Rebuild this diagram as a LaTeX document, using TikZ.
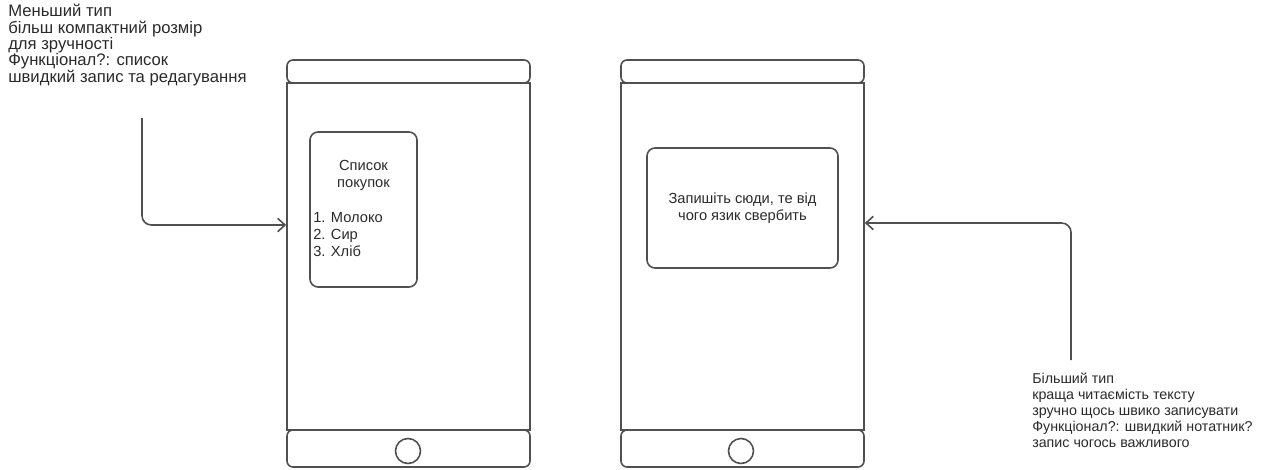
\documentclass[tikz,border=0pt]{standalone}
\usepackage{fontspec}
\setmainfont{Liberation Sans}
\usepackage{tikz}
\usetikzlibrary{arrows.meta,positioning}

\definecolor{inkline}{HTML}{505050}
\definecolor{inktext}{HTML}{2A2A2A}

\begin{document}
\begin{tikzpicture}[
  x=0.75pt, y=-0.75pt,
  body/.style={rectangle, draw=inkline, line width=1.2pt, minimum width=182.25pt, inner sep=0pt},
  bar/.style={body, rounded corners=4.5pt},
  home/.style={circle, draw=inkline, line width=1.2pt, minimum size=18.75pt, inner sep=0pt},
  screen/.style={rectangle, draw=inkline, line width=1.2pt, rounded corners=6pt, inner sep=0pt},
  note/.style={anchor=west, align=left, inner sep=0pt, text=inktext, font=\fontsize{10.7}{12}\selectfont},
  label/.style={align=center, inner sep=0pt, text=inktext, font=\fontsize{11}{12.75}\selectfont},
  link/.style={draw=inkline, line width=1.2pt, rounded corners=7pt, ->},
  >={Straight Barb[length=5.5pt,width=10pt]}
]
\useasboundingbox (0,0) rectangle (1275,469);

% left phone: shopping list
\node[bar, minimum height=17.25pt] (topA) at (408.5,71.5) {};
\node[body, minimum height=260.25pt] (phoneA) at (408.5,256.5) {};
\node[bar, minimum height=27.75pt] (bottomA) at (408.5,448.5) {};
\node[home] (homeA) at (408,451) {};
\node[screen, minimum width=80.25pt, minimum height=116.25pt] (screenA) at (363.5,209.5) {};
\node[label] (titleA) at (363.5,175) {Список\\покупок};
\node[note, font=\fontsize{11}{12.75}\selectfont] (itemsA) at (313,235) {1. Молоко\\2. Сир\\3. Хліб};

% right phone: quick note
\node[bar, minimum height=17.25pt] (topB) at (742.5,71.5) {};
\node[body, minimum height=260.25pt] (phoneB) at (742.5,256.5) {};
\node[bar, minimum height=27.75pt] (bottomB) at (742.5,448.5) {};
\node[home] (homeB) at (741,451) {};
\node[screen, minimum width=143.25pt, minimum height=90pt] (screenB) at (742.5,208) {};
\node[label] (textB) at (742.5,208.5) {Запишіть сюди, те від\\чого язик свербить};

% notes
\node[note, font=\fontsize{12.5}{12.25}\selectfont] (noteA) at (8,45) {Меньший тип\\більш компактний розмір\\для зручності\\Функціонал?: список\\швидкий запис та редагування};
\node[note] (noteB) at (1032,410) {Більший тип\\краща читаємість тексту\\зручно щось швико записувати\\Функціонал?: швидкий нотатник?\\запис чогось важливого};

\coordinate (tailA) at (142,118);
\coordinate (tailB) at (1071,360);
\draw[link] (tailA) |- (phoneA.west |- 0,225);
\draw[link] (tailB) |- (phoneB.east |- 0,223);
\end{tikzpicture}
\end{document}
